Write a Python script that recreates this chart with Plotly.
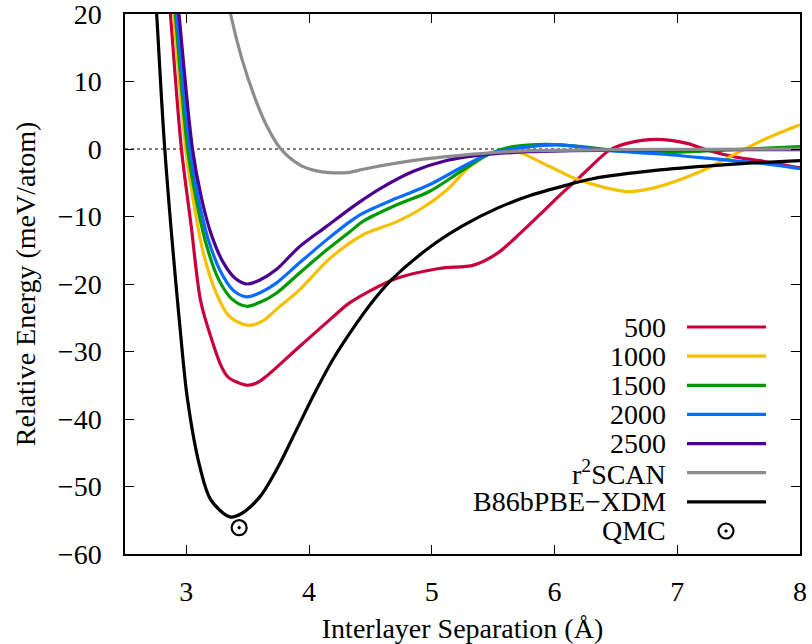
import plotly.graph_objects as go

# ---------------- data ----------------
x_500 = [2.84, 2.87, 2.96, 3.04, 3.115, 3.19, 3.285, 3.34, 3.42, 3.50, 3.58, 3.65, 3.92, 4.20, 4.33, 4.71, 5.06, 5.34, 5.53, 5.69, 5.91, 6.04, 6.21, 6.45, 6.59, 6.83, 7.08, 7.24, 7.46, 7.67, 8.0]
y_500 = [26.7, 20, 0, -11.5, -22.4, -27.3, -32.2, -33.8, -34.6, -35.0, -34.6, -33.7, -29.3, -24.8, -22.8, -19.2, -17.7, -17.2, -15.5, -13.0, -9.2, -6.9, -4.1, -0.15, 0.84, 1.44, 0.84, -0.15, -1.14, -1.73, -2.8]

x_1000 = [2.87, 2.897, 2.995, 3.06, 3.14, 3.24, 3.35, 3.50, 3.62, 3.75, 3.92, 4.17, 4.44, 4.71, 4.90, 5.12, 5.31, 5.48, 5.69, 5.96, 6.20, 6.59, 6.80, 7.18, 7.455, 7.73, 8.0]
y_1000 = [25.5, 20, 0, -8.0, -15.5, -21.2, -24.8, -26.1, -25.5, -23.5, -20.9, -16.2, -12.7, -10.8, -9.0, -6.1, -2.6, -0.64, -0.4, -2.6, -4.6, -6.3, -5.8, -3.4, -0.9, 1.6, 3.6]

x_1500 = [2.88, 2.91, 3.01, 3.08, 3.16, 3.26, 3.37, 3.49, 3.60, 3.73, 3.92, 4.14, 4.33, 4.44, 4.71, 4.98, 5.255, 5.48, 5.66, 5.93, 6.2, 6.5, 6.86, 7.40, 8.0]
y_1500 = [26, 20, 0, -7.5, -14.0, -19.2, -22.2, -23.3, -22.7, -21.4, -18.4, -15.0, -12.3, -10.7, -8.3, -6.3, -3.1, -0.64, 0.35, 0.7, 0.4, -0.2, -0.55, -0.15, 0.35]

x_2000 = [2.89, 2.92, 3.03, 3.10, 3.18, 3.28, 3.38, 3.49, 3.60, 3.73, 3.92, 4.14, 4.33, 4.44, 4.71, 4.98, 5.255, 5.48, 5.80, 6.04, 6.45, 6.86, 7.265, 7.67, 8.0]
y_2000 = [26, 20, 0, -7.5, -13.5, -18.2, -20.9, -21.9, -21.3, -19.9, -16.9, -13.5, -10.8, -9.5, -7.3, -5.3, -2.6, -0.64, 0.35, 0.6, -0.25, -0.74, -1.4, -2.1, -2.9]

x_2500 = [2.91, 2.94, 3.05, 3.12, 3.20, 3.30, 3.40, 3.49, 3.60, 3.73, 3.92, 4.14, 4.33, 4.44, 4.576, 4.85, 5.12, 5.39, 5.80, 6.5, 7.2, 8.0]
y_2500 = [26, 20, 0, -7.0, -12.5, -16.8, -19.2, -20.0, -19.4, -17.9, -14.5, -11.5, -8.9, -7.5, -5.9, -3.3, -1.7, -0.9, -0.4, -0.15, -0.1, -0.1]

x_r2scan = [3.33, 3.36, 3.45, 3.56, 3.65, 3.77, 3.92, 4.05, 4.17, 4.33, 4.44, 4.71, 4.98, 5.255, 5.53, 5.80, 6.5, 7.2, 8.0]
y_r2scan = [23, 20, 13.5, 7.5, 3.6, 0, -2.3, -3.2, -3.5, -3.45, -3.0, -2.1, -1.4, -0.9, -0.5, -0.25, -0.1, -0.05, 0.0]

x_xdm = [2.73, 2.758, 2.824, 2.95, 3.01, 3.11, 3.20, 3.355, 3.45, 3.60, 3.75, 3.90, 4.05, 4.20, 4.35, 4.50, 4.67, 4.98, 5.25, 5.53, 5.80, 6.11, 6.31, 6.86, 7.40, 8.0]
y_xdm = [28, 20, 0, -26.8, -37.2, -47.1, -52.0, -54.5, -54.0, -51.5, -47.0, -41.5, -36.0, -31.0, -26.8, -23.0, -19.4, -14.6, -11.4, -8.8, -6.9, -5.3, -4.4, -3.1, -2.3, -1.73]

x_qmc = [3.43]
y_qmc = [-56.1]

labels = ["500", "1000", "1500", "2000", "2500", "r<sup>2</sup>SCAN", "B86bPBE\u2212XDM", "QMC"]
colors = ["#c8003c", "#f5c000", "#009a00", "#0a6cff", "#4b0090", "#8c8c8c", "#000000"]

x_ticks = [3, 4, 5, 6, 7, 8]
y_ticks = [20, 10, 0, -10, -20, -30, -40, -50, -60]
y_ticklabels = ["\u2212" + str(-v) if v < 0 else str(v) for v in y_ticks]

FONT = "Times New Roman, Times, Liberation Serif, DejaVu Serif, serif"
W, H = 812, 644
L, R, T, B = 125, 12, 14, 90

series = [(x_500, y_500), (x_1000, y_1000), (x_1500, y_1500), (x_2000, y_2000),
          (x_2500, y_2500), (x_r2scan, y_r2scan), (x_xdm, y_xdm)]

fig = go.Figure()

# zero dotted line
fig.add_trace(go.Scatter(x=[2.5, 8.0], y=[0, 0], mode="lines",
                         line=dict(color="black", width=1, dash="dot"),
                         showlegend=False, hoverinfo="skip"))

for (xs, ys), c, name in zip(series, colors, labels):
    fig.add_trace(go.Scatter(x=xs, y=ys, mode="lines", name=name,
                             line=dict(color=c, width=3.2, shape="spline", smoothing=0.9),
                             showlegend=False))

fig.add_trace(go.Scatter(x=x_qmc, y=y_qmc, mode="markers", name="QMC",
                         marker=dict(symbol="circle-open-dot", size=15, color="black",
                                     line=dict(width=2.2, color="black")),
                         showlegend=False))

# ---------------- manual legend (text left of sample) ----------------
pw, ph = W - L - R, H - T - B
def px2paper_x(px):
    return (px - L) / pw
def px2paper_y(py):
    return (H - B - py) / ph

row0, row_step = 327, 29.14
text_right, line_x0, line_x1, marker_x = 668, 687, 766, 726

annotations = []
for i, lab in enumerate(labels):
    py = row0 + i * row_step
    annotations.append(dict(x=px2paper_x(text_right), y=px2paper_y(py), xref="x2", yref="y2",
                            text=lab, showarrow=False, xanchor="right", yanchor="middle",
                            font=dict(family=FONT, size=28, color="black")))
    if i < len(colors):
        fig.add_trace(go.Scatter(x=[px2paper_x(line_x0), px2paper_x(line_x1)],
                                 y=[px2paper_y(py)] * 2, mode="lines",
                                 line=dict(color=colors[i], width=3.2),
                                 xaxis="x2", yaxis="y2", showlegend=False, hoverinfo="skip"))
    else:
        fig.add_trace(go.Scatter(x=[px2paper_x(marker_x)], y=[px2paper_y(py)], mode="markers",
                                 marker=dict(symbol="circle-open-dot", size=15, color="black",
                                             line=dict(width=2.2, color="black")),
                                 xaxis="x2", yaxis="y2", showlegend=False, hoverinfo="skip"))

axis_common = dict(showline=True, linecolor="black", linewidth=1.5, mirror="allticks",
                   ticks="inside", ticklen=9, tickwidth=1.3, tickcolor="black",
                   showgrid=False, zeroline=False, ticklabeloverflow="allow", automargin=False,
                   tickfont=dict(family=FONT, size=28, color="black"))

fig.update_layout(
    width=W, height=H,
    margin=dict(l=L, r=R, t=T, b=B, autoexpand=False),
    paper_bgcolor="white", plot_bgcolor="white",
    showlegend=False,
    font=dict(family=FONT),
    annotations=annotations,
    xaxis=dict(range=[2.5, 8.0], tickvals=x_ticks, ticktext=[str(v) for v in x_ticks],
               title=dict(text="Interlayer Separation (\u00c5)", font=dict(family=FONT, size=28, color="black"),
                          standoff=14),
               ticklabelstandoff=12, **axis_common),
    yaxis=dict(range=[-60, 20], tickvals=y_ticks, ticktext=y_ticklabels,
               title=dict(text="Relative Energy (meV/atom)", font=dict(family=FONT, size=28, color="black"),
                          standoff=14),
               ticklabelstandoff=16, **axis_common),
    xaxis2=dict(range=[0, 1], overlaying="x", visible=False, fixedrange=True),
    yaxis2=dict(range=[0, 1], overlaying="y", visible=False, fixedrange=True),
)

fig.write_html("out.html")
